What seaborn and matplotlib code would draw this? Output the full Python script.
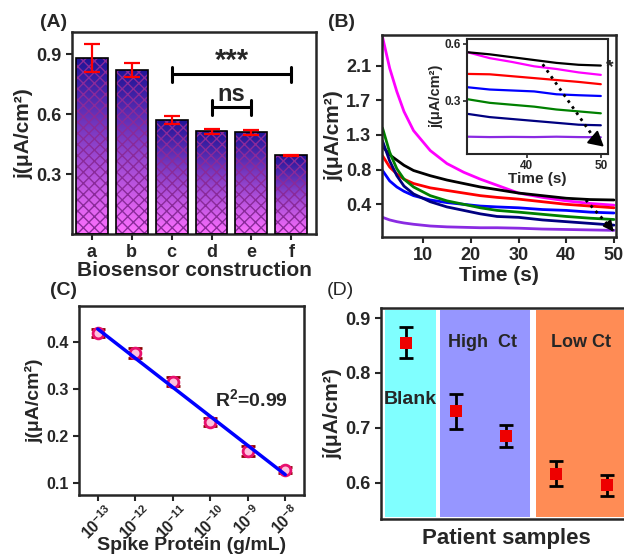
import numpy as np
import pandas as pd
import matplotlib
matplotlib.use("Agg")
import matplotlib.pyplot as plt
import seaborn as sns
from matplotlib.colors import LinearSegmentedColormap
from matplotlib.patches import Rectangle

# ---- data ----
# (A) biosensor construction
bar_labels = ["a", "b", "c", "d", "e", "f"]
bar_means = [0.88, 0.82, 0.57, 0.515, 0.51, 0.395]
bar_errs = [0.07, 0.035, 0.02, 0.012, 0.012, 0.003]

# (B) chronoamperometry, main panel (y in tick-position units)
b_times = [1.5, 3, 4.5, 6, 8, 11.5, 15, 18.5, 22, 25.5, 30, 35, 40, 45, 50]
b_magenta = [2.38, 2.02, 1.75, 1.52, 1.30, 1.07, 0.92, 0.82, 0.74, 0.67, 0.58, 0.53, 0.49, 0.46, 0.44]
b_black = [1.12, 1.02, 0.96, 0.90, 0.84, 0.78, 0.73, 0.69, 0.65, 0.62, 0.58, 0.55, 0.52, 0.505, 0.50]
b_red = [1.01, 0.88, 0.80, 0.74, 0.69, 0.64, 0.61, 0.58, 0.55, 0.53, 0.51, 0.48, 0.45, 0.43, 0.41]
b_blue = [0.84, 0.72, 0.65, 0.60, 0.55, 0.50, 0.47, 0.45, 0.43, 0.42, 0.41, 0.39, 0.38, 0.36, 0.35]
b_green = [1.33, 1.05, 0.86, 0.74, 0.65, 0.55, 0.49, 0.45, 0.41, 0.38, 0.36, 0.335, 0.31, 0.29, 0.275]
b_navy = [1.18, 0.95, 0.78, 0.66, 0.57, 0.48, 0.42, 0.38, 0.34, 0.31, 0.30, 0.27, 0.25, 0.23, 0.21]
b_violet = [0.30, 0.27, 0.25, 0.235, 0.22, 0.20, 0.19, 0.185, 0.18, 0.18, 0.175, 0.165, 0.16, 0.155, 0.15]
b_ytick_pos = [0.45, 0.85, 1.25, 1.65, 2.05]
b_ytick_labels = ["0.4", "0.8", "1.3", "1.7", "2.1"]

# (B) inset
in_times = [32, 35, 38, 41, 44, 47, 50]
in_black = [0.556, 0.545, 0.530, 0.515, 0.500, 0.490, 0.486]
in_magenta = [0.556, 0.525, 0.505, 0.482, 0.468, 0.450, 0.437]
in_red = [0.442, 0.440, 0.430, 0.420, 0.410, 0.400, 0.388]
in_blue = [0.372, 0.360, 0.355, 0.350, 0.335, 0.330, 0.326]
in_green = [0.309, 0.290, 0.280, 0.270, 0.255, 0.245, 0.235]
in_navy = [0.232, 0.215, 0.205, 0.195, 0.185, 0.175, 0.172]
in_violet = [0.112, 0.110, 0.111, 0.110, 0.112, 0.110, 0.109]

curve_names = ["magenta", "black", "red", "blue", "green", "navy", "violet"]
curve_colors = ["#ff00ff", "#000000", "#ff0000", "#0000ff", "#008000", "#000080", "#8a2be2"]

# (C) calibration
conc_exp = [-13, -12, -11, -10, -9, -8]
c_vals = [0.418, 0.376, 0.315, 0.230, 0.168, 0.128]
c_errs = [0.008, 0.010, 0.010, 0.008, 0.010, 0.006]

# (D) patient samples
d_pos = [0, 1, 2, 3, 4]
d_vals = [0.855, 0.730, 0.685, 0.616, 0.595]
d_errs = [0.028, 0.032, 0.020, 0.023, 0.019]

# ---- style ----
sns.set_style("ticks")
plt.rcParams["font.family"] = ["Liberation Sans", "DejaVu Sans"]
plt.rcParams["font.weight"] = "bold"
plt.rcParams["axes.labelweight"] = "bold"
plt.rcParams["mathtext.fontset"] = "custom"
plt.rcParams["mathtext.rm"] = "Liberation Sans"
plt.rcParams["mathtext.bf"] = "Liberation Sans:bold"
plt.rcParams["axes.linewidth"] = 1.8
plt.rcParams["xtick.major.width"] = 1.5
plt.rcParams["ytick.major.width"] = 1.5
plt.rcParams["xtick.major.size"] = 4
plt.rcParams["ytick.major.size"] = 4
plt.rcParams["hatch.linewidth"] = 1.0

ylab = "j(μA/cm²)"

fig = plt.figure(figsize=(6.24, 5.56), dpi=100)
axA = fig.add_axes([0.1154, 0.579, 0.391, 0.363])
axB = fig.add_axes([0.612, 0.5737, 0.375, 0.363])
axC = fig.add_axes([0.1266, 0.1097, 0.3606, 0.34])
axD = fig.add_axes([0.610, 0.066, 0.4022, 0.3795])
axIn = fig.add_axes([0.748, 0.723, 0.226, 0.207])

# ---- (A) ----
sns.barplot(x=bar_labels, y=bar_means, ax=axA, width=0.8, color="white",
            edgecolor="black", linewidth=1.2, errorbar=None)
grad = LinearSegmentedColormap.from_list("g", ["#ff70ff", "#1e1496"])
gvals = np.linspace(0, 1, 256).reshape(-1, 1)
for p in list(axA.patches):
    x0, y0 = p.get_x(), p.get_y()
    w, h = p.get_width(), p.get_height()
    im = axA.imshow(gvals, cmap=grad, origin="lower", aspect="auto",
                    extent=[x0, x0 + w, y0, y0 + h], zorder=1)
    im.set_clip_path(p)
    axA.add_patch(Rectangle((x0, y0), w, h, facecolor="none", edgecolor="#8a2a9a",
                            hatch="xxx", lw=0, zorder=2))
    p.set_facecolor("none")
    p.set_zorder(3)
axA.errorbar(range(len(bar_means)), bar_means, yerr=bar_errs, fmt="none",
             ecolor="red", elinewidth=1.6, capsize=6, capthick=1.6, zorder=4)
for (xa, xb, yy) in [(2, 5, 0.80), (3, 4, 0.635)]:
    axA.plot([xa, xb], [yy, yy], color="black", lw=2.2)
    axA.plot([xa, xa], [yy - 0.037, yy + 0.037], color="black", lw=2.2)
    axA.plot([xb, xb], [yy - 0.037, yy + 0.037], color="black", lw=2.2)
axA.text(3.5, 0.865, "***", ha="center", va="center", fontsize=21)
axA.text(3.5, 0.70, "ns", ha="center", va="center", fontsize=17)
axA.set_xlim(-0.5, 5.62)
axA.set_ylim(0, 1.01)
axA.set_yticks([0.3, 0.6, 0.9])
axA.set_xlabel("Biosensor construction", fontsize=15, labelpad=0)
axA.set_ylabel(ylab, fontsize=15, labelpad=2)
axA.tick_params(labelsize=13)

# ---- (B) ----
main_series = [b_magenta, b_black, b_red, b_blue, b_green, b_navy, b_violet]
df_b = pd.DataFrame([(t, v, n) for n, s in zip(curve_names, main_series)
                     for t, v in zip(b_times, s)], columns=["time", "j", "sample"])
sns.lineplot(data=df_b, x="time", y="j", hue="sample", hue_order=curve_names,
             palette=curve_colors, ax=axB, legend=False, lw=2)
axB.plot([44.1, 49.6], [0.50, 0.16], ls=":", color="black", lw=2)
axB.annotate("", xy=(50.3, 0.11), xytext=(49.3, 0.18),
             arrowprops=dict(arrowstyle="-|>,head_length=0.6,head_width=0.3",
                             color="black", lw=1.5))
axB.set_xlim(1.37, 50.4)
axB.set_ylim(0.073, 2.40)
axB.set_xticks([10, 20, 30, 40, 50])
axB.set_yticks(b_ytick_pos)
axB.set_yticklabels(b_ytick_labels)
axB.set_xlabel("Time (s)", fontsize=15, labelpad=1)
axB.set_ylabel(ylab, fontsize=15, labelpad=2)
axB.tick_params(labelsize=13)

inset_series = [in_magenta, in_black, in_red, in_blue, in_green, in_navy, in_violet]
df_in = pd.DataFrame([(t, v, n) for n, s in zip(curve_names, inset_series)
                      for t, v in zip(in_times, s)], columns=["time", "j", "sample"])
sns.lineplot(data=df_in, x="time", y="j", hue="sample", hue_order=curve_names,
             palette=curve_colors, ax=axIn, legend=False, lw=1.6)
axIn.plot([42.15, 49.2], [0.493, 0.10], ls=":", color="black", lw=2)
axIn.annotate("", xy=(50.7, 0.05), xytext=(48.6, 0.12),
              arrowprops=dict(arrowstyle="-|>,head_length=0.9,head_width=0.5",
                              color="black", lw=1.5))
axIn.text(51.2, 0.475, "*", fontsize=14, ha="center", va="center", clip_on=False)
axIn.set_xlim(31.9, 50.94)
axIn.set_ylim(0.021, 0.626)
axIn.set_xticks([40, 50])
axIn.set_yticks([0.3, 0.6])
axIn.set_xlabel("Time (s)", fontsize=11, labelpad=0)
axIn.set_ylabel(ylab, fontsize=10.5, labelpad=1)
axIn.tick_params(labelsize=8.5, length=3, width=1.2, pad=1)
for s in axIn.spines.values():
    s.set_linewidth(1.5)

# ---- (C) ----
axC.errorbar(conc_exp, c_vals, yerr=c_errs, fmt="none", ecolor="#8b0000",
             elinewidth=2, capsize=5, capthick=2, zorder=2)
sns.scatterplot(x=conc_exp, y=c_vals, ax=axC, marker="o", s=60,
                facecolor="#ffc0dc", edgecolor="#e8106e", linewidth=2, zorder=3)
sns.regplot(x=conc_exp, y=c_vals, ax=axC, scatter=False, ci=None,
            color="#0000ff", line_kws=dict(lw=2.5, zorder=4))
axC.text(-8.9, 0.277, "R$^{\\mathbf{2}}$=0.99", ha="center", va="center", fontsize=14)
axC.set_xlim(-13.5, -7.5)
axC.set_ylim(0.075, 0.4756)
axC.set_yticks([0.1, 0.2, 0.3, 0.4])
axC.set_xticks(conc_exp)
axC.set_xticklabels([r"$\mathbf{10^{%d}}$" % e for e in conc_exp], rotation=45,
                    ha="center", va="top")
axC.tick_params(axis="x", pad=1)
axC.set_xlabel("Spike Protein (g/mL)", fontsize=14)
axC.xaxis.set_label_coords(0.5, -0.265)
axC.xaxis.label.set_va("center")
axC.set_ylabel(ylab, fontsize=14, labelpad=2)
axC.tick_params(labelsize=11.5)

# ---- (D) ----
ylo, yhi = 0.533, 0.918
for (xa, xb, col) in [(-0.42, 0.6, "#80ffff"), (0.68, 2.48, "#9696ff"), (2.6, 4.45, "#ff8c55")]:
    axD.axvspan(xa, xb, ymin=0.01, ymax=0.99, color=col, lw=0, zorder=0)
axD.errorbar(d_pos, d_vals, yerr=d_errs, fmt="none", ecolor="black",
             elinewidth=2, capsize=5, capthick=2, zorder=2)
sns.scatterplot(x=d_pos, y=d_vals, ax=axD, marker="s", s=65, color="#ee0000",
                linewidth=0, zorder=3)
axD.text(0.08, 0.751, "Blank", ha="center", va="center", fontsize=14)
axD.text(1.53, 0.855, "High  Ct", ha="center", va="center", fontsize=13)
axD.text(3.5, 0.855, "Low Ct", ha="center", va="center", fontsize=13)
axD.set_xlim(-0.5, 4.5)
axD.set_ylim(ylo, yhi)
axD.set_xticks([])
axD.set_yticks([0.6, 0.7, 0.8, 0.9])
axD.set_xlabel("Patient samples", fontsize=16, labelpad=6)
axD.set_ylabel(ylab, fontsize=15, labelpad=2)
axD.tick_params(labelsize=13)

# panel letters
fig.text(0.0865, 0.960, "(A)", fontsize=14, ha="center", va="center")
fig.text(0.548, 0.959, "(B)", fontsize=14, ha="center", va="center")
fig.text(0.101, 0.478, "(C)", fontsize=14, ha="center", va="center")
fig.text(0.545, 0.478, "(D)", fontsize=14, ha="center", va="center", fontweight="normal")

fig.savefig("out.png", dpi=100)
